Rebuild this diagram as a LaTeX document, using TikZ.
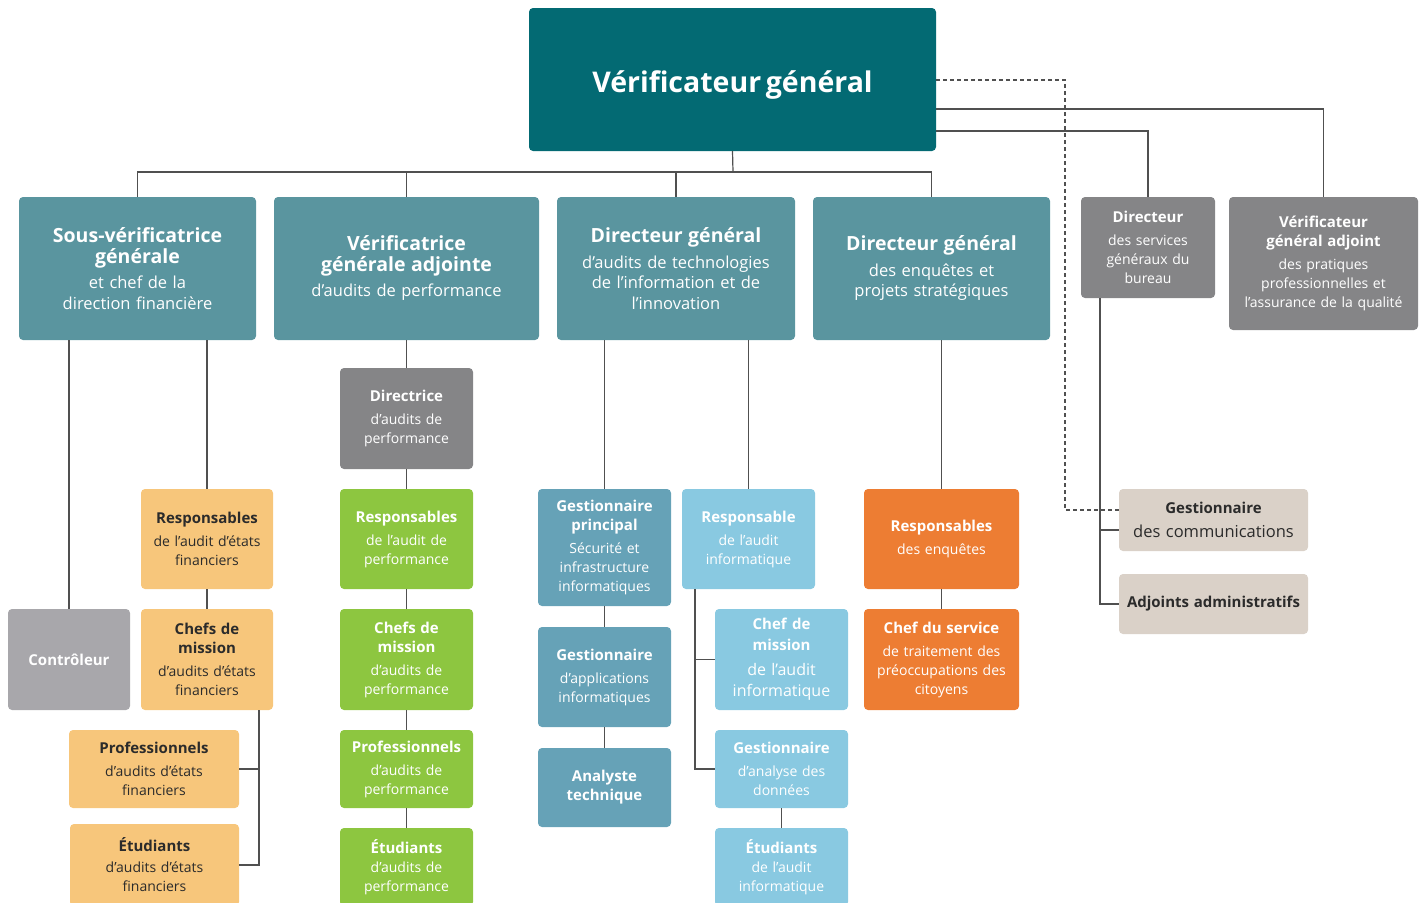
\documentclass[tikz,border=0pt]{standalone}
\usepackage{fontspec}
\setmainfont{Open Sans}
\definecolor{vgteal}{HTML}{036A73}
\definecolor{lvltwo}{HTML}{5A959F}
\definecolor{midgray}{HTML}{858587}
\definecolor{ctrlgray}{HTML}{A8A7AB}
\definecolor{fingold}{HTML}{F7C67B}
\definecolor{perfgreen}{HTML}{8DC640}
\definecolor{itblue}{HTML}{66A2B7}
\definecolor{itlight}{HTML}{89C9E1}
\definecolor{enqorange}{HTML}{ED7D33}
\definecolor{sandbeige}{HTML}{DAD1C8}
\definecolor{darktext}{HTML}{2B2B2B}
\definecolor{linegray}{HTML}{505050}
\newcommand{\ttl}[1]{{\fontsize{15}{19}\selectfont\bfseries #1}}
\newcommand{\bigttl}[1]{{\fontsize{19.5}{21}\selectfont\bfseries #1}}

\begin{document}
\begin{tikzpicture}[x=1pt, y=-1pt,
    box/.style = {rounded corners=4pt, inner sep=0pt, align=center,
      text=white, font=\fontsize{14}{19}\selectfont},
    sz/.style n args = {2}{minimum width=#1pt, text width=#1pt,
      minimum height=#2pt},
    lvl/.style = {box, fill=lvltwo, font=\fontsize{16.5}{20.5}\selectfont},
    link/.style = {draw=linegray, line width=1.2pt}]
    \useasboundingbox (0,0) rectangle (1426,902);
    \clip (0,0) rectangle (1426,902);

    % top and second level
    \node [box, fill=vgteal, sz={407}{143}] (vg) at (732.5,79.5)
      {\raisebox{-2.5pt}[\height][0pt]{\fontsize{28.5}{30}\selectfont\bfseries Vérificateur général}};
    \node [lvl, sz={237}{143}] (svg) at (137.5,268.5)
      {\bigttl{Sous-vérificatrice}\\\bigttl{générale}\\[5pt]et chef de la\\direction financière};
    \node [lvl, sz={265}{143}] (vga) at (406.5,268.5)
      {\bigttl{Vérificatrice}\\\bigttl{générale adjointe}\\[5pt]d'audits de performance};
    \node [lvl, sz={238}{143}] (dgti) at (676,268.5)
      {\bigttl{Directeur général}\\[5pt]d'audits de technologies\\de l'information et de\\l'innovation};
    \node [lvl, sz={237}{143}] (dgenq) at (931.5,268.5)
      {\bigttl{Directeur général}\\[5pt]des enquêtes et\\projets stratégiques};
    \node [box, fill=midgray, sz={134}{101}] (dsg) at (1148,247.5)
      {\ttl{Directeur}\\[4pt]des services\\généraux du\\bureau};
    \node [box, fill=midgray, sz={189}{133}] (vgpro) at (1323.5,263.5)
      {\ttl{Vérificateur}\\\ttl{général adjoint}\\[4pt]des pratiques\\professionnelles et\\l'assurance de la qualité};
    \node [box, fill=sandbeige, text=darktext, sz={189}{62},
      font=\fontsize{16.5}{24}\selectfont] (gcom) at (1213.5,520)
      {\ttl{Gestionnaire}\\des communications};
    \node [box, fill=sandbeige, text=darktext, sz={189}{60}] (adj) at (1213.5,604)
      {\ttl{Adjoints administratifs}};

    % audit d'états financiers
    \node [box, fill=ctrlgray, sz={122}{101}] (ctrl) at (69,659.5) {\ttl{Contrôleur}};
    \node [box, fill=fingold, text=darktext, sz={132}{100}] (refin) at (207,539)
      {\ttl{Responsables}\\[4pt]de l'audit d'états\\financiers};
    \node [box, fill=fingold, text=darktext, sz={132}{101}] (chfin) at (207,659.5)
      {\ttl{Chefs de}\\\ttl{mission}\\[4pt]d'audits d'états\\financiers};
    \node [box, fill=fingold, text=darktext, sz={170}{78}] (profin) at (154,769)
      {\ttl{Professionnels}\\[4pt]d'audits d'états\\financiers};
    \node [box, fill=fingold, text=darktext, sz={169}{82}] (etufin) at (154.5,865)
      {\ttl{Étudiants}\\[2pt]d'audits d'états\\financiers};

    % audit de performance
    \node [box, fill=midgray, sz={133}{101}] (dirp) at (406.5,418.5)
      {\ttl{Directrice}\\[4pt]d'audits de\\performance};
    \node [box, fill=perfgreen, sz={133}{100}] (rperf) at (406.5,539)
      {\ttl{Responsables}\\[4pt]de l'audit de\\performance};
    \node [box, fill=perfgreen, sz={133}{101}] (chperf) at (406.5,659.5)
      {\ttl{Chefs de}\\\ttl{mission}\\[4pt]d'audits de\\performance};
    \node [box, fill=perfgreen, sz={133}{78}] (prperf) at (406.5,769)
      {\ttl{Professionnels}\\[4pt]d'audits de\\performance};
    \node [box, fill=perfgreen, sz={133}{78}] (etperf) at (406.5,867)
      {\ttl{Étudiants}\\d'audits de\\performance};

    % technologies de l'information
    \node [box, fill=itblue, sz={133}{117}] (gprin) at (604.5,547.5)
      {\ttl{Gestionnaire}\\\ttl{principal}\\[4pt]Sécurité et\\infrastructure\\informatiques};
    \node [box, fill=itblue, sz={133}{100}] (gapp) at (604.5,677)
      {\ttl{Gestionnaire}\\[4pt]d'applications\\informatiques};
    \node [box, fill=itblue, sz={133}{79}] (anal) at (604.5,787.5)
      {\ttl{Analyste}\\\ttl{technique}};
    \node [box, fill=itlight, sz={133}{100}] (rinf) at (748.5,539)
      {\ttl{Responsable}\\[4pt]de l'audit\\informatique};
    \node [box, fill=itlight, sz={133}{101}, font=\fontsize{16}{21}\selectfont]
      (chinf) at (781.5,659.5)
      {\ttl{Chef de}\\\ttl{mission}\\[4pt]de l'audit\\informatique};
    \node [box, fill=itlight, sz={133}{78}] (ganal) at (781.5,769)
      {\ttl{Gestionnaire}\\[4pt]d'analyse des\\données};
    \node [box, fill=itlight, sz={133}{78}] (etinf) at (781.5,867)
      {\ttl{Étudiants}\\de l'audit\\informatique};

    % enquêtes
    \node [box, fill=enqorange, sz={155}{100}] (renq) at (941.5,539)
      {\ttl{Responsables}\\[4pt]des enquêtes};
    \node [box, fill=enqorange, sz={155}{101}] (chserv) at (941.5,659.5)
      {\ttl{Chef du service}\\[4pt]de traitement des\\préoccupations des\\citoyens};

    % connectors
    \coordinate (bus) at (733,172);
    \draw [link] (vg.south) -- (bus);
    \foreach \n in {svg,vga,dgti,dgenq}
      \draw [link] (bus) -| (\n.north);
    \draw [link, dash pattern=on 4pt off 3pt] (vg.east |- 0,80) -| (1065,510)
      -- (gcom.west |- 0,510);
    \draw [link] (vg.east |- 0,109) -| (vgpro.north);
    \draw [link] (vg.east |- 0,131) -| (dsg.north);
    \draw [link] (dsg.south -| 1100,0) |- (gcom.west |- 0,530);
    \draw [link] (dsg.south -| 1100,0) |- (adj.west);

    \draw [link] (svg.south -| ctrl.north) -- (ctrl.north);
    \draw [link] (svg.south -| refin.north) -- (refin.north);
    \draw [link] (chfin.south -| 259,0) |- (profin.east);
    \draw [link] (chfin.south -| 259,0) |- (etufin.east);
    \draw [link] (dgti.south -| gprin.north) -- (gprin.north);
    \draw [link] (dgti.south -| rinf.north) -- (rinf.north);
    \draw [link] (rinf.south -| 695,0) |- (chinf.west);
    \draw [link] (rinf.south -| 695,0) |- (ganal.west);
    \draw [link] (dgenq.south -| renq.north) -- (renq.north);
    \foreach \a/\b in {refin/chfin, vga/dirp, dirp/rperf, rperf/chperf,
      chperf/prperf, prperf/etperf, gprin/gapp, gapp/anal, ganal/etinf,
      renq/chserv}
      \draw [link] (\a) -- (\b);
\end{tikzpicture}
\end{document}
